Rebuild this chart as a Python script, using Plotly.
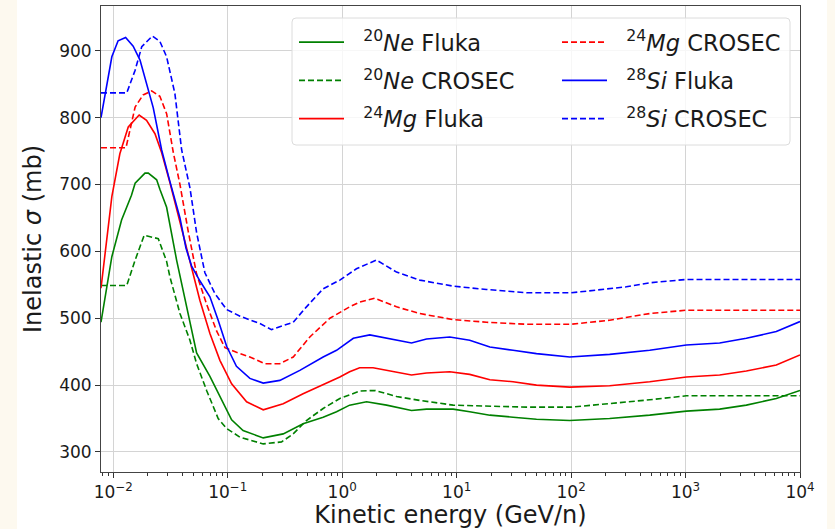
import math
import plotly.graph_objects as go

# ---------------- data (kinetic energy in GeV/n, inelastic cross section in mb) ----------------
ne_fluka_E = [0.0078, 0.0097, 0.0118, 0.0144, 0.0155, 0.0189, 0.0202, 0.0239, 0.0255, 0.0292,
              0.0357, 0.0436, 0.0534, 0.0698, 0.0882, 0.108, 0.136, 0.204, 0.305, 0.455,
              0.681, 0.892, 1.16, 1.63, 2.44, 4.03, 5.45, 9.31, 13.0, 19.5, 31.1, 49.8,
              97.2, 217, 486, 1016, 1986, 3397, 6209, 10000]
ne_fluka_sigma = [494, 592, 647, 684, 702, 717, 717, 707, 693, 666,
                  587, 517, 448, 413, 378, 348, 332, 321, 327, 342,
                  352, 360, 370, 375, 370, 362, 364, 364, 360, 355, 352, 349,
                  347, 350, 355, 361, 364, 370, 380, 392]

ne_crosec_E = [0.0078, 0.0131, 0.0155, 0.0186, 0.0247, 0.0292, 0.0312, 0.0382, 0.0467, 0.0534,
               0.0653, 0.0824, 0.0977, 0.128, 0.204, 0.295, 0.373, 0.487, 0.681, 0.953,
               1.42, 1.93, 2.98, 4.76, 9.31, 18.2, 40.7, 100, 217, 486, 1016, 10000]
ne_crosec_sigma = [549, 549, 587, 624, 619, 585, 562, 507, 467, 432,
                   392, 350, 335, 322, 312, 315, 327, 347, 365, 380,
                   391, 392, 383, 377, 370, 369, 367, 367, 372, 378, 384, 384]

mg_fluka_E = [0.0078, 0.0097, 0.0114, 0.0135, 0.0168, 0.0195, 0.0231, 0.0264, 0.0312, 0.0408,
              0.0499, 0.0570, 0.0698, 0.0853, 0.108, 0.146, 0.204, 0.305, 0.455, 0.681,
              0.953, 1.16, 1.42, 1.86, 4.03, 5.45, 8.70, 13.0, 19.5, 31.1, 49.8, 97.2,
              217, 486, 1016, 1986, 3397, 6209, 10000]
mg_fluka_sigma = [545, 682, 746, 786, 804, 796, 776, 748, 703, 626,
                  566, 527, 477, 437, 402, 375, 363, 372, 387, 400,
                  412, 420, 426, 426, 415, 418, 420, 416, 408, 405, 400, 397,
                  399, 405, 412, 415, 421, 430, 445]

mg_crosec_E = [0.0078, 0.0129, 0.0155, 0.0182, 0.0216, 0.0255, 0.0292, 0.0334, 0.0382, 0.0451,
               0.0534, 0.0653, 0.0798, 0.0944, 0.119, 0.156, 0.211, 0.285, 0.373, 0.521,
               0.780, 1.16, 1.42, 1.93, 2.98, 4.76, 9.31, 18.2, 40.7, 100, 217, 486,
               1016, 10000]
mg_crosec_sigma = [755, 755, 816, 834, 840, 832, 806, 748, 700, 630,
                   566, 521, 481, 456, 449, 442, 432, 432, 442, 472,
                   500, 517, 524, 530, 517, 507, 498, 494, 491, 491, 497, 507,
                   512, 512]

si_fluka_E = [0.0078, 0.0097, 0.0110, 0.0128, 0.0149, 0.0171, 0.0223, 0.0264, 0.0308, 0.0382,
              0.0431, 0.0483, 0.0570, 0.0698, 0.0824, 0.0977, 0.119, 0.156, 0.204, 0.285,
              0.426, 0.681, 0.892, 1.25, 1.74, 2.44, 4.03, 5.45, 8.70, 13.0, 19.5, 31.1,
              49.8, 97.2, 217, 486, 1016, 1986, 3397, 6209, 10000]
si_fluka_sigma = [800, 891, 915, 920, 907, 886, 815, 752, 708, 650,
                  605, 578, 556, 532, 497, 458, 428, 410, 403, 407,
                  422, 442, 452, 470, 475, 470, 463, 469, 472, 467, 457, 452,
                  447, 442, 446, 452, 460, 463, 470, 480, 495]

si_crosec_E = [0.0078, 0.0131, 0.0155, 0.0177, 0.0219, 0.0255, 0.0292, 0.0345, 0.0395, 0.0467,
               0.0534, 0.0631, 0.0771, 0.0977, 0.128, 0.156, 0.191, 0.241, 0.373, 0.487,
               0.681, 0.953, 1.33, 1.99, 2.98, 4.76, 9.31, 18.2, 40.7, 100, 304, 486,
               1016, 10000]
si_crosec_sigma = [837, 837, 871, 906, 922, 914, 891, 836, 752, 695,
                   628, 568, 537, 513, 503, 498, 492, 483, 494, 517,
                   544, 557, 574, 587, 569, 557, 548, 543, 538, 538, 547, 553,
                   558, 558]

x_tick_vals = [1e-2, 1e-1, 1e0, 1e1, 1e2, 1e3, 1e4]
x_tick_text = ["10<sup>\u22122</sup>", "10<sup>\u22121</sup>", "10<sup>0</sup>", "10<sup>1</sup>",
               "10<sup>2</sup>", "10<sup>3</sup>", "10<sup>4</sup>"]
y_tick_vals = [300, 400, 500, 600, 700, 800, 900]

# ---------------- figure ----------------
W, H = 835, 529
L, R, T, B = 101, 35, 6, 57
pw, ph = W - L - R, H - T - B

def px_x(p):
    return (p - L) / pw

def px_y(p):
    return (H - B - p) / ph

NB = "\u00a0\u00a0"
series = [
    (ne_fluka_E, ne_fluka_sigma, NB + "<sup>20</sup><i>Ne</i> Fluka", "green", "solid", "legend"),
    (ne_crosec_E, ne_crosec_sigma, NB + "<sup>20</sup><i>Ne</i> CROSEC", "green", "6px,3px", "legend"),
    (mg_fluka_E, mg_fluka_sigma, NB + "<sup>24</sup><i>Mg</i> Fluka", "red", "solid", "legend"),
    (mg_crosec_E, mg_crosec_sigma, NB + "<sup>24</sup><i>Mg</i> CROSEC", "red", "6px,3px", "legend2"),
    (si_fluka_E, si_fluka_sigma, NB + "<sup>28</sup><i>Si</i> Fluka", "blue", "solid", "legend2"),
    (si_crosec_E, si_crosec_sigma, NB + "<sup>28</sup><i>Si</i> CROSEC", "blue", "6px,3px", "legend2"),
]

fig = go.Figure()
for i, (xs, ys, name, col, dash, leg) in enumerate(series):
    fig.add_trace(go.Scatter(
        x=xs, y=ys, mode="lines", name=name,
        line=dict(color=col, width=1.6, dash=dash),
        legend=leg, legendgroup="g%d" % i,
    ))

font_family = "DejaVu Sans"
minor_vals = []
for d in range(-3, 4):
    for k in range(2, 10):
        v = k * 10 ** d
        if 0.0078 <= v <= 1e4:
            minor_vals.append(v)

legend_common = dict(
    bgcolor="rgba(0,0,0,0)", borderwidth=0,
    font=dict(family=font_family, size=22.5, color="#1a1a1a"),
    traceorder="grouped", tracegroupgap=6, itemwidth=45,
    xanchor="left", yanchor="top", itemclick=False, itemdoubleclick=False,
)

fig.update_layout(
    width=W, height=H,
    margin=dict(l=L, r=R, t=T, b=B, autoexpand=False),
    paper_bgcolor="white", plot_bgcolor="white",
    font=dict(family=font_family, size=17, color="#1a1a1a"),
    showlegend=True,
    legend=dict(x=px_x(294), y=px_y(21), **legend_common),
    legend2=dict(x=px_x(557), y=px_y(21), **legend_common),
    xaxis=dict(
        type="log", range=[math.log10(0.0078), 4.0],
        tickmode="array", tickvals=x_tick_vals, ticktext=x_tick_text,
        ticks="outside", ticklen=5, tickwidth=1, tickcolor="#333",
        showgrid=True, gridcolor="#d4d4d4", gridwidth=1,
        showline=True, linecolor="#444", linewidth=1, mirror=True,
        zeroline=False,
        tickfont=dict(family=font_family, size=17, color="#1a1a1a"),
        minor=dict(tickmode="array", tickvals=minor_vals, ticks="outside", ticklen=3,
                   tickwidth=0.8, tickcolor="#333", showgrid=False),
        title=dict(text="Kinetic energy (GeV/n)", standoff=1,
                   font=dict(family=font_family, size=24, color="#1a1a1a")),
        automargin=False,
    ),
    yaxis=dict(
        range=[270, 967],
        tickmode="array", tickvals=y_tick_vals,
        ticks="outside", ticklen=5, tickwidth=1, tickcolor="#333",
        showgrid=True, gridcolor="#d4d4d4", gridwidth=1,
        showline=True, linecolor="#444", linewidth=1, mirror=True,
        zeroline=False,
        tickfont=dict(family=font_family, size=17, color="#1a1a1a"),
        title=dict(text="Inelastic <i>\u03c3</i> (mb)", standoff=10,
                   font=dict(family=font_family, size=24, color="#1a1a1a")),
        automargin=False,
    ),
)

# legend frame (rounded box)
x0, x1, y0, y1, r = px_x(292), px_x(790), px_y(18), px_y(145), 4
rx, ry = r / pw, r / ph
path = (f"M {x0+rx},{y0} L {x1-rx},{y0} Q {x1},{y0} {x1},{y0-ry} "
        f"L {x1},{y1+ry} Q {x1},{y1} {x1-rx},{y1} L {x0+rx},{y1} Q {x0},{y1} {x0},{y1+ry} "
        f"L {x0},{y0-ry} Q {x0},{y0} {x0+rx},{y0} Z")
fig.add_shape(type="path", path=path, xref="paper", yref="paper",
              fillcolor="rgba(255,255,255,0.8)", line=dict(color="#dcdcdc", width=1), layer="above")

# beige page margins
beige = "#fdf9ef"
fig.add_shape(type="rect", xref="paper", yref="paper", x0=px_x(0), x1=px_x(17),
              y0=px_y(H), y1=px_y(0), fillcolor=beige, line=dict(width=0), layer="below")
fig.add_shape(type="rect", xref="paper", yref="paper", x0=px_x(827), x1=px_x(W),
              y0=px_y(H), y1=px_y(0), fillcolor=beige, line=dict(width=0), layer="below")

fig.write_html("out.html")
